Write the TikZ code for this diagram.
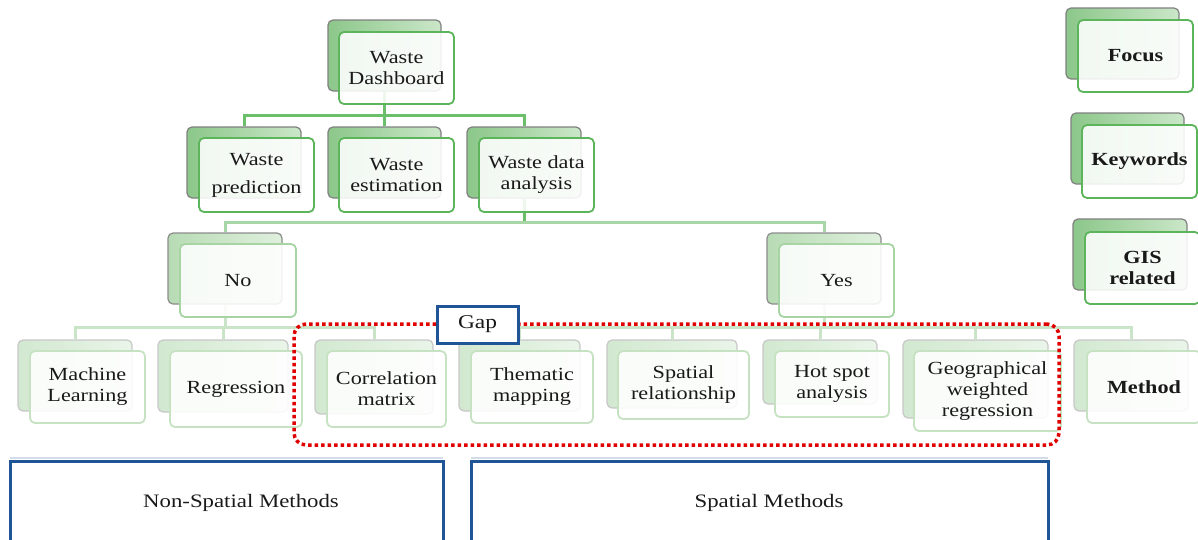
\documentclass[tikz,border=0pt]{standalone}
\usepackage{fontspec}
\setmainfont{Liberation Serif}[FakeStretch=1.2]
\usetikzlibrary{fit}
\definecolor{gA}{HTML}{5DB55B}
\definecolor{gB}{HTML}{A6D4A3}
\definecolor{gC}{HTML}{C6E2C3}
\definecolor{bkAl}{HTML}{8CC78A}
\definecolor{bkAr}{HTML}{CBE7C9}
\definecolor{bkBl}{HTML}{B7DBB4}
\definecolor{bkBr}{HTML}{E0F0DE}
\definecolor{bkCl}{HTML}{D2E8D0}
\definecolor{bkCr}{HTML}{EAF5E9}
\definecolor{lnA}{HTML}{6CBF6A}
\definecolor{lnB}{HTML}{A9D6A6}
\definecolor{lnC}{HTML}{C9E4C7}
\definecolor{blu}{HTML}{1F5596}
\definecolor{redd}{HTML}{E00000}
\tikzset{
  txt/.style={font=\fontsize{18.5}{21}\selectfont, text=black!90, align=center, inner sep=0pt},
  backA/.style={draw=black!50, line width=1.2pt, rounded corners=5pt, left color=bkAl, right color=bkAr, inner sep=0pt},
  backB/.style={draw=black!45, line width=1.2pt, rounded corners=5pt, left color=bkBl, right color=bkBr, inner sep=0pt},
  backC/.style={draw=black!22, line width=1.2pt, rounded corners=5pt, left color=bkCl, right color=bkCr, inner sep=0pt},
  frontA/.style={draw=gA, line width=1.8pt, rounded corners=5pt, fill=white, fill opacity=0.88, inner sep=0pt},
  frontB/.style={draw=gB, line width=1.8pt, rounded corners=5pt, fill=white, fill opacity=0.88, inner sep=0pt},
  frontC/.style={draw=gC, line width=1.8pt, rounded corners=5pt, fill=white, fill opacity=0.88, inner sep=0pt},
  connA/.style={draw=lnA, line width=3pt},
  connB/.style={draw=lnB, line width=3pt},
  connC/.style={draw=lnC, line width=3pt},
  dotbox/.style={draw=redd, line width=3.5pt, dash pattern=on 3.5pt off 3pt, rounded corners=12pt, inner sep=0pt},
  gapnode/.style={draw=blu, line width=3pt, fill=white, minimum width=81pt, minimum height=37pt, inner sep=0pt},
  bluebox/.style={draw=blu, line width=3pt},
}
% #1 name, #2 level, #3 #4 front corners, #5 text
\newcommand\gfront[5]{%
  \node[front#2, fit={#3 #4}] (#1) {};
  \node[txt] (#1T) at (#1.center) {#5};
}
\begin{document}
\begin{tikzpicture}[x=1pt,y=-1pt]
\useasboundingbox (0,0) rectangle (1198,539);
\clip (0,0) rectangle (1198,539);
\coordinate (h1) at (0,115.5);
\coordinate (h2) at (0,222);
\coordinate (h3) at (0,327.5);

% back boxes
\node[backA, fit={(328,20) (441,91)}] (dashB) {};
\node[backA, fit={(187,127) (301,198)}] (predB) {};
\node[backA, fit={(328,127) (441,198)}] (estB) {};
\node[backA, fit={(467,127) (581,198)}] (anaB) {};
\node[backB, fit={(168,233) (282,304)}] (noB) {};
\node[backB, fit={(767,233) (881,304)}] (yesB) {};
\node[backC, fit={(18,340) (132,411)}] (mlB) {};
\node[backC, fit={(158,340) (288,412)}] (regB) {};
\node[backC, fit={(315,340) (433,414)}] (corB) {};
\node[backC, fit={(459,340) (580,411)}] (theB) {};
\node[backC, fit={(607,340) (737,408)}] (spaB) {};
\node[backC, fit={(763,340) (877,404)}] (hotB) {};
\node[backC, fit={(903,340) (1048,418)}] (geoB) {};
\node[backC, fit={(1074,340) (1188,411)}] (metB) {};
\node[backA, fit={(1066,8) (1179,79)}] (focB) {};
\node[backA, fit={(1071,113) (1184,184)}] (keyB) {};
\node[backA, fit={(1073,219) (1187,290)}] (gisB) {};

% connectors
\draw[connA] (dashB.south) -- (dashB.south |- h1);
\draw[connA] (predB.north) -- (predB.north |- h1) -- (anaB.north |- h1) -- (anaB.north);
\draw[connA] (estB.north) -- (estB.north |- h1);
\draw[connA] (anaB.south) -- (anaB.south |- h2);
\draw[connB] (noB.north) -- (noB.north |- h2) -- (yesB.north |- h2) -- (yesB.north);
\draw[connC] (noB.south) -- (noB.south |- h3);
\draw[connC] (mlB.north) -- (mlB.north |- h3) -- (corB.north |- h3) -- (corB.north);
\draw[connC] (regB.north) -- (regB.north |- h3);
\draw[connC] (yesB.south) -- (yesB.south |- h3);
\draw[connC] (theB.north) -- (theB.north |- h3) -- (metB.north |- h3) -- (metB.north);
\draw[connC] (spaB.north) -- (spaB.north |- h3);
\draw[connC] (hotB.north) -- (hotB.north |- h3);
\draw[connC] (geoB.north) -- (geoB.north |- h3);

% front boxes with text
\gfront{dash}{A}{(339,32)}{(454,104)}{Waste\\Dashboard}
\gfront{pred}{A}{(199,138)}{(314,212)}{Waste\\[7pt]prediction}
\gfront{est}{A}{(339,138)}{(454,212)}{Waste\\estimation}
\gfront{ana}{A}{(479,138)}{(594,212)}{Waste data\\analysis}
\gfront{no}{B}{(180,244)}{(296,317)}{No}
\gfront{yes}{B}{(779,244)}{(894,317)}{Yes}
\gfront{ml}{C}{(30,351)}{(145,423)}{Machine\\Learning}
\gfront{reg}{C}{(170,351)}{(302,427)}{Regression}
\gfront{cor}{C}{(327,351)}{(446,427)}{Correlation\\matrix}
\gfront{the}{C}{(471,351)}{(593,423)}{Thematic\\mapping}
\gfront{spa}{C}{(618,351)}{(749,419)}{Spatial\\relationship}
\gfront{hot}{C}{(775,351)}{(889,417)}{Hot spot\\analysis}
\gfront{geo}{C}{(914,351)}{(1061,431)}{Geographical\\weighted\\regression}
\gfront{met}{C}{(1087,351)}{(1201,423)}{\bfseries Method}
\gfront{foc}{A}{(1078,20)}{(1193,92)}{\bfseries Focus}
\gfront{key}{A}{(1082,125)}{(1197,198)}{\bfseries Keywords}
\gfront{gis}{A}{(1085,232)}{(1200,304)}{\bfseries GIS\\\bfseries related}

% gap region
\node[dotbox, fit={(294,324) (1059,445)}] (gapregion) {};
\node[gapnode] (gap) at (477.5,324.5) {};
\node[txt, font=\fontsize{19.5}{21}\selectfont] (gapT) at (gap.center) {Gap};

% bottom boxes
\draw[blu!20, line width=1.5pt] (10,458) -- (443,458);
\draw[blu!20, line width=1.5pt] (471,458) -- (1048,458);
\draw[bluebox] (10,545) -- (10,461.5) -- (443,461.5) -- (443,545);
\draw[bluebox] (471,545) -- (471,461.5) -- (1048,461.5) -- (1048,545);
\node[txt, font=\fontsize{19}{21}\selectfont] (nonsp) at (241,503) {Non-Spatial Methods};
\node[txt, font=\fontsize{19}{21}\selectfont] (sp) at (769,503) {Spatial Methods};
\end{tikzpicture}
\end{document}
